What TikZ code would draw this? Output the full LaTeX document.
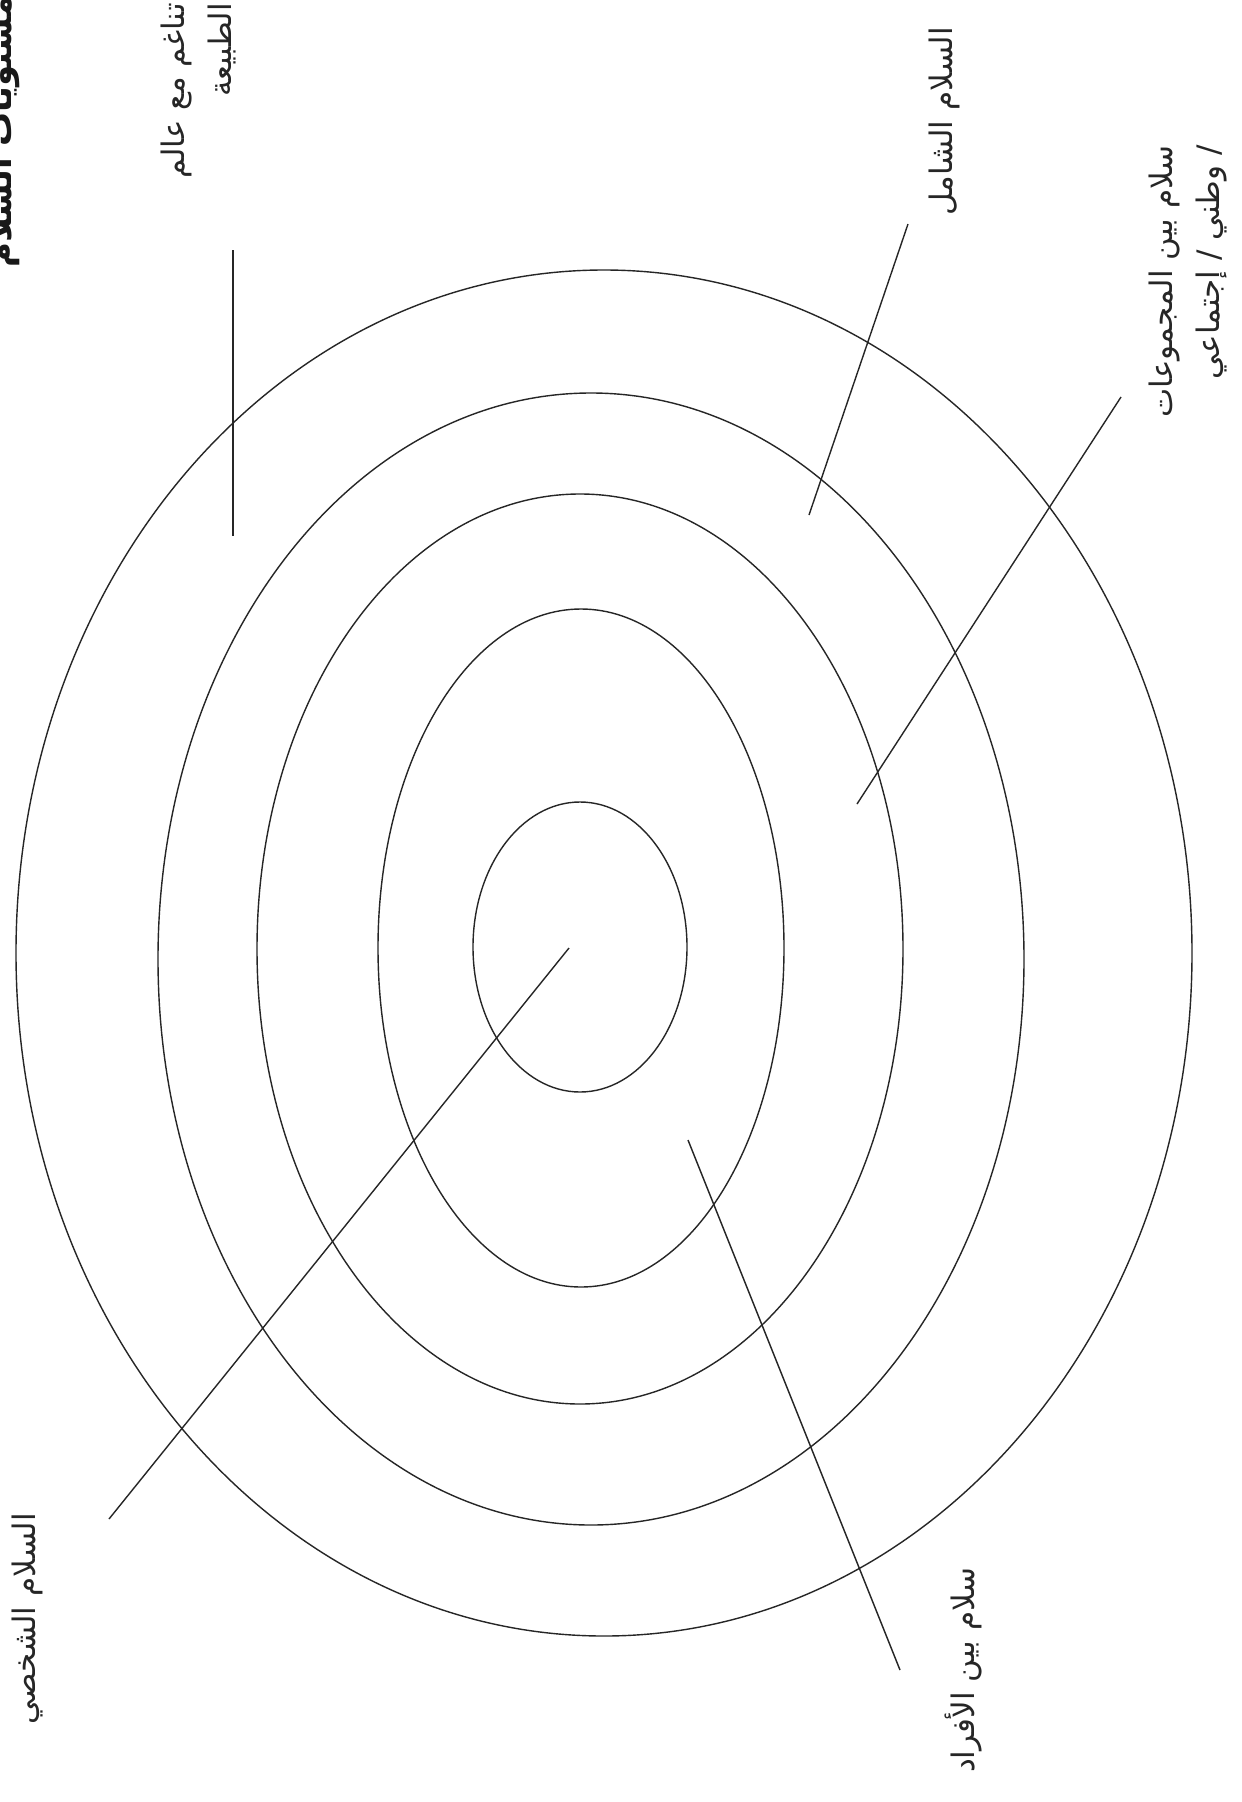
\documentclass[tikz,border=0pt]{standalone}
\usepackage{fontspec}
\newfontfamily\arabicfont[Script=Arabic]{DejaVu Sans}
\TeXXeTstate=1
\begin{document}
\begin{tikzpicture}[x=1pt,y=-1pt,
  ring/.style={draw=black!85,line width=1.4pt},
  conn/.style={draw=black!85,line width=1.4pt},
  lbl/.style={rotate=90,inner sep=0pt,text=black!85,font=\arabicfont\fontsize{31}{47}\selectfont,align=right},
  ttl/.style={rotate=90,inner sep=0pt,text=black!90,font=\arabicfont\bfseries\fontsize{34}{40}\selectfont}]
\useasboundingbox[fill=white] (0,0) rectangle (1242,1802);
% rings
\draw[ring] (604,953) ellipse [x radius=588pt, y radius=683pt];
\draw[ring] (591,959) ellipse [x radius=433pt, y radius=566pt];
\draw[ring] (580,949) ellipse [x radius=323pt, y radius=455pt];
\draw[ring] (581,948) ellipse [x radius=203pt, y radius=339pt];
\draw[ring] (580,947) ellipse [x radius=107pt, y radius=145pt];
% labels
\node[ttl,anchor=base west] (title) at (12,268) {\beginR مستويات السلام\endR};
\node[lbl,anchor=east] (nature) at (198,3) {\beginR تناغم مع عالم\endR\\\beginR الطبيعة\endR};
\node[lbl,anchor=east] (global) at (944,27) {\beginR السلام الشامل\endR};
\node[lbl,anchor=east] (groups) at (1188,145) {\beginR سلام بين المجموعات\endR\\\beginR / وطني / إجتماعي\endR};
\node[lbl,anchor=east] (personal) at (28,1513) {\beginR السلام الشخصي\endR};
\node[lbl,anchor=east] (indiv) at (963,1567) {\beginR سلام بين الأفراد\endR};
% connector ends
\coordinate (a1) at (569,948);  \coordinate (a2) at (109,1519);
\coordinate (b1) at (688,1140); \coordinate (b2) at (900,1670);
\coordinate (c1) at (857,804);  \coordinate (c2) at (1121,397);
\coordinate (d1) at (809,515);  \coordinate (d2) at (908,224);
\coordinate (e1) at (233,250);  \coordinate (e2) at (233,536);
\draw[conn] (a1) -- (a2);
\draw[conn] (b1) -- (b2);
\draw[conn] (c1) -- (c2);
\draw[conn] (d1) -- (d2);
\draw[conn] (e1) -- (e2);
\end{tikzpicture}
\end{document}
